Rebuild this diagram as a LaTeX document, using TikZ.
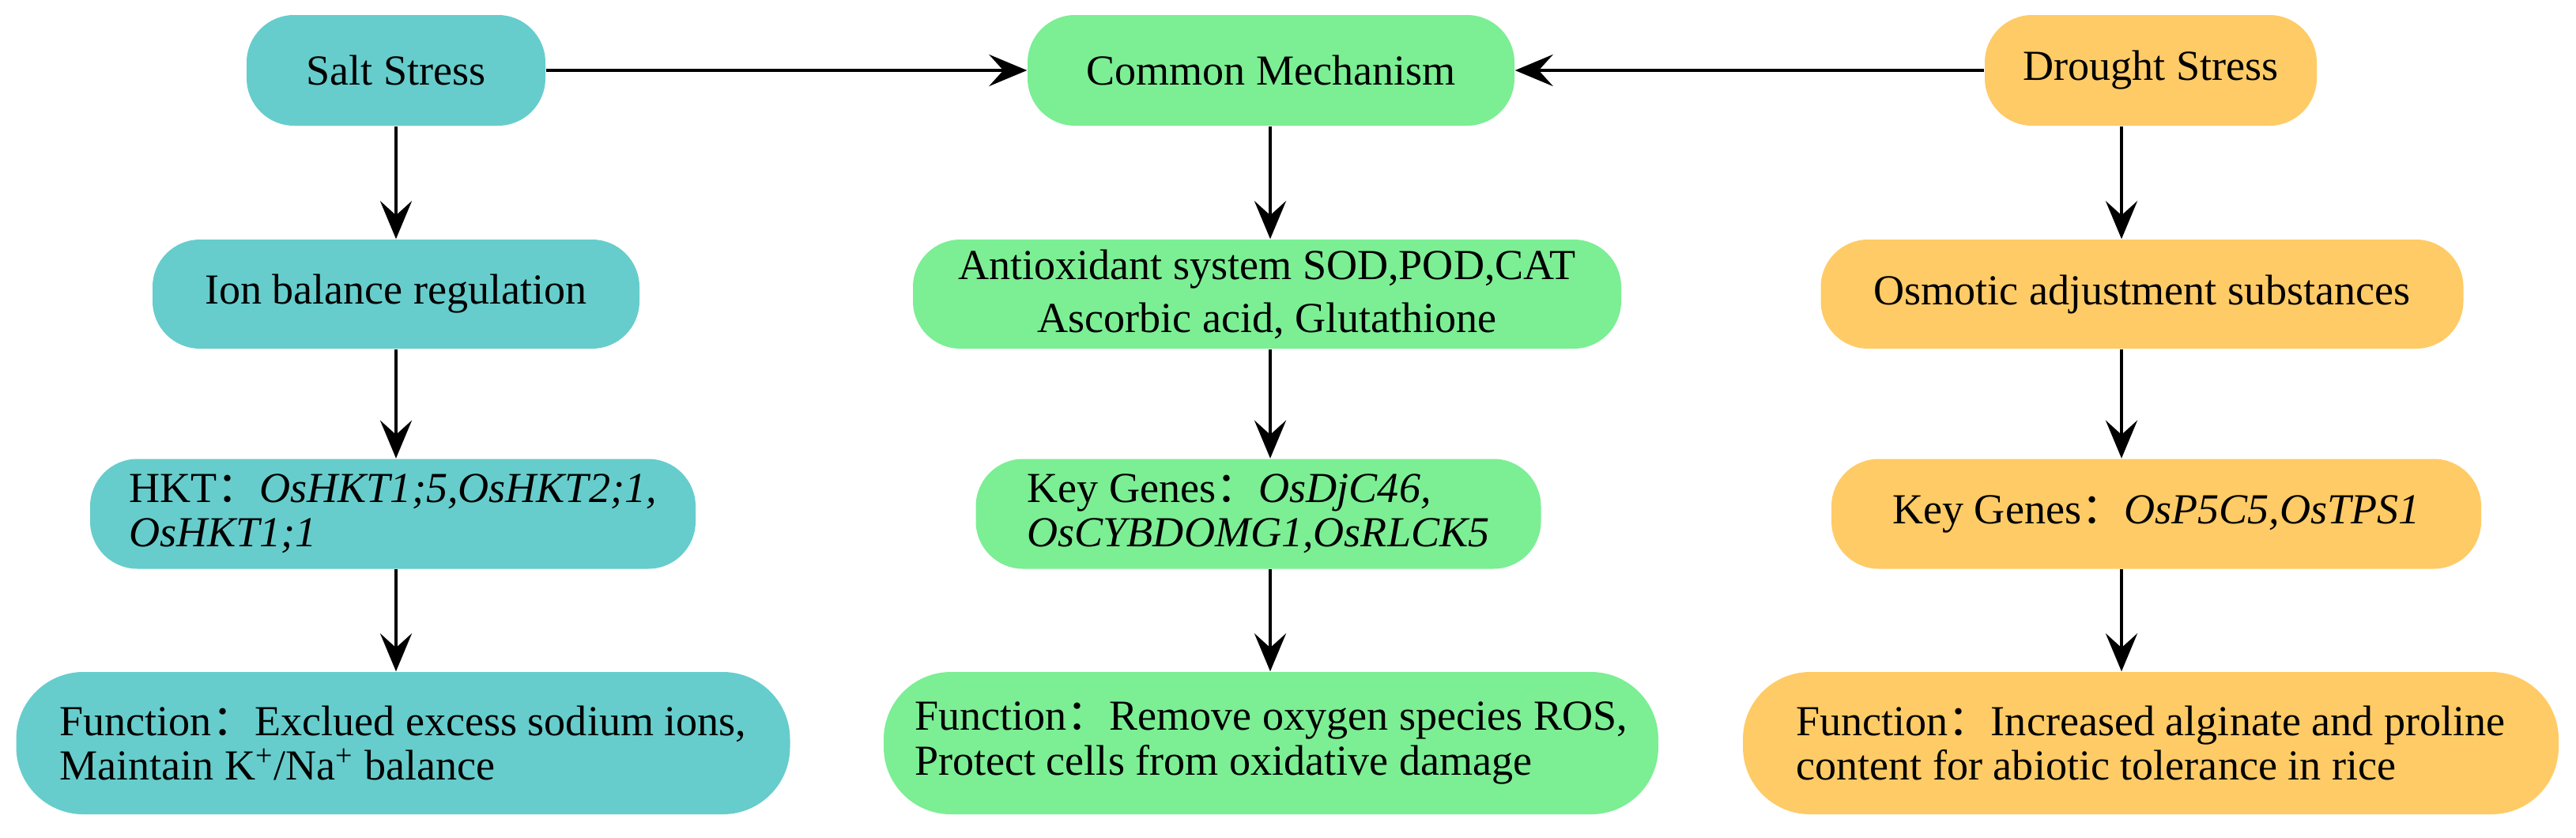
\documentclass[tikz,border=0pt]{standalone}
\usepackage{fontspec}
\setmainfont{Liberation Serif}
\newfontfamily\cjkcolon{Noto Sans CJK SC}
\usetikzlibrary{arrows.meta, positioning}
\definecolor{saltcol}{HTML}{66CDCC}
\definecolor{commoncol}{HTML}{7CEE94}
\definecolor{droughtcol}{HTML}{FFCB66}
\newcommand{\fcolon}{{\cjkcolon ：}}
\tikzset{
    stressbox/.style={rectangle, rounded corners=0.6cm, inner sep=0pt, align=left, font=\fontsize{15.4pt}{16pt}\selectfont},
    saltbox/.style={stressbox, fill=saltcol},
    commonbox/.style={stressbox, fill=commoncol},
    droughtbox/.style={stressbox, fill=droughtcol},
    funbox/.style={minimum height=1.80cm, rounded corners=0.85cm},
    flowarrow/.style={-{Stealth[length=4.8mm,width=4mm,inset=1.8mm]}, line width=1.4pt, draw=black}
}

\begin{document}
\begin{tikzpicture}
    \useasboundingbox (0,0) rectangle (32.59,-10.59);
    % column lines for the arrows
    \coordinate (colL) at (5.01,0);
    \coordinate (colM) at (16.07,0);
    \coordinate (colR) at (26.84,0);

    % Salt stress
    \node[saltbox, minimum width=3.78cm, minimum height=1.40cm] (salt) at (5.01,-0.89) {Salt Stress};
    \node[saltbox, minimum width=6.16cm, minimum height=1.38cm] (ion) at (5.01,-3.72) {Ion balance regulation};
    \node[saltbox, minimum width=7.66cm, minimum height=1.39cm] (hkt) at (4.97,-6.50) {HKT\fcolon\textit{OsHKT1;5,OsHKT2;1,}\\\textit{OsHKT1;1}};
    \node[saltbox, funbox, minimum width=9.79cm] (saltfun) at (5.10,-9.40) {Function\fcolon Exclued excess sodium ions,\\Maintain K\textsuperscript{+}/Na\textsuperscript{+} balance};

    % Common mechanism
    \node[commonbox, minimum width=6.16cm, minimum height=1.40cm] (common) at (16.08,-0.89) {Common Mechanism};
    \node[commonbox, minimum width=8.96cm, minimum height=1.38cm, align=center, font=\fontsize{15.4pt}{19pt}\selectfont] (antiox) at (16.03,-3.72) {Antioxidant system SOD,POD,CAT\\Ascorbic acid, Glutathione};
    \node[commonbox, minimum width=7.15cm, minimum height=1.39cm] (commongenes) at (15.92,-6.50) {Key Genes\fcolon\textit{OsDjC46,}\\\textit{OsCYBDOMG1,OsRLCK5}};
    \node[commonbox, funbox, minimum width=9.80cm] (commonfun) at (16.08,-9.40) {Function\fcolon Remove oxygen species ROS,\\Protect cells from oxidative damage};

    % Drought stress
    \node[droughtbox, minimum width=4.20cm, minimum height=1.40cm] (drought) at (27.21,-0.89) {Drought Stress};
    \node[droughtbox, minimum width=8.13cm, minimum height=1.38cm] (osmo) at (27.10,-3.72) {Osmotic adjustment substances};
    \node[droughtbox, minimum width=8.22cm, minimum height=1.39cm] (droughtgenes) at (27.28,-6.50) {Key Genes\fcolon\textit{OsP5C5,OsTPS1}};
    \node[droughtbox, funbox, minimum width=10.32cm] (droughtfun) at (27.21,-9.40) {Function\fcolon Increased alginate and proline\\content for abiotic tolerance in rice};

    % Into the common mechanism
    \draw[flowarrow] (salt) -- (common);
    \draw[flowarrow] (drought) -- (common);

    % Down the columns
    \draw[flowarrow] (salt.south -| colL) -- (ion.north -| colL);
    \draw[flowarrow] (ion.south -| colL) -- (hkt.north -| colL);
    \draw[flowarrow] (hkt.south -| colL) -- (saltfun.north -| colL);
    \draw[flowarrow] (common.south -| colM) -- (antiox.north -| colM);
    \draw[flowarrow] (antiox.south -| colM) -- (commongenes.north -| colM);
    \draw[flowarrow] (commongenes.south -| colM) -- (commonfun.north -| colM);
    \draw[flowarrow] (drought.south -| colR) -- (osmo.north -| colR);
    \draw[flowarrow] (osmo.south -| colR) -- (droughtgenes.north -| colR);
    \draw[flowarrow] (droughtgenes.south -| colR) -- (droughtfun.north -| colR);
\end{tikzpicture}
\end{document}
